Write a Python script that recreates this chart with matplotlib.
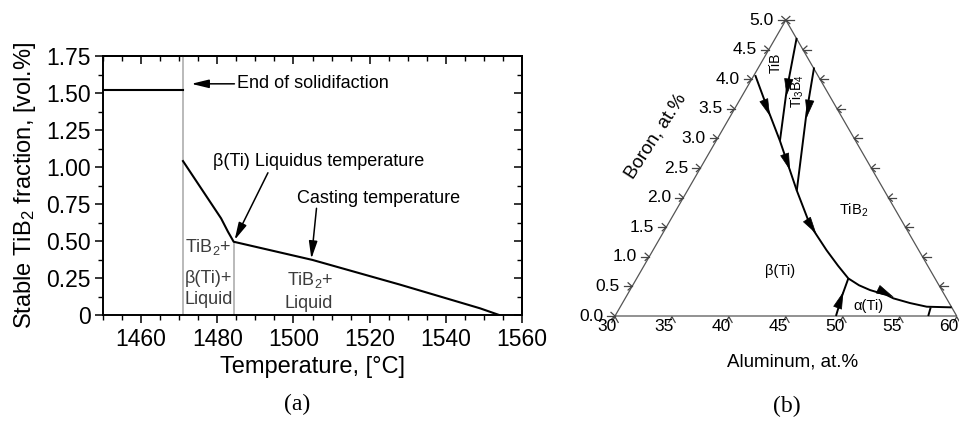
import numpy as np
import matplotlib
matplotlib.use('Agg')
import matplotlib.pyplot as plt
from matplotlib.ticker import MultipleLocator, FixedLocator, FixedFormatter

plt.rcParams['font.family'] = ['Liberation Sans', 'DejaVu Sans']
plt.rcParams['mathtext.fontset'] = 'custom'
plt.rcParams['mathtext.rm'] = 'Liberation Sans'
plt.rcParams['mathtext.it'] = 'Liberation Sans'
plt.rcParams['mathtext.default'] = 'regular'

# ---- panel (a) data: stable TiB2 fraction vs temperature ----
solid_T = [1450, 1471]
solid_f = [1.52, 1.52]
liq_T = [1471, 1481, 1482.8, 1484.3, 1505, 1528, 1549, 1554]
liq_f = [1.04, 0.653, 0.563, 0.495, 0.372, 0.205, 0.045, 0.0]
T_solidus = 1471          # end of solidification
T_liquidus = 1484.3       # beta(Ti) liquidus
f_liquidus = 0.495
x_ticks = [1460, 1480, 1500, 1520, 1540, 1560]
y_ticks = [0, 0.25, 0.5, 0.75, 1.0, 1.25, 1.5, 1.75]
y_tick_labels = ['0', '0.25', '0.50', '0.75', '1.00', '1.25', '1.50', '1.75']

# ---- panel (b) data: liquidus projection (Al at.%, B at.%) ----
c1_al = [30.1, 33.05, 35.6, 39.6, 42.1, 43.07, 45.25, 47.03, 48.58, 49.87, 51.08,
         52.79, 53.55, 55.24, 56.9, 59.12]
c1_b = [4.07, 3.47, 2.96, 2.12, 1.62, 1.45, 1.11, 0.85, 0.635, 0.519, 0.438,
        0.354, 0.298, 0.219, 0.157, 0.146]
c2_al = [31.85, 33.66, 35.6]
c2_b = [4.70, 3.80, 2.96]
c3_al = [34.88, 36.5, 39.6]
c3_b = [4.20, 3.44, 2.12]
c4_al = [49.4, 48.93, 48.58]
c4_b = [0.0, 0.325, 0.635]
c5_al = [57.5, 57.28]
c5_b = [0.0, 0.146]
# arrow tips (Al, B) and the curve they sit on
arrow_curve = [0, 0, 0, 0, 1, 2, 3]
arrow_al = [33.46, 37.99, 43.5, 53.46, 33.9, 36.77, 48.82]
arrow_b = [3.38, 2.46, 1.39, 0.325, 3.72, 3.36, 0.41]
al_ticks = [30, 35, 40, 45, 50, 55, 60]
b_ticks = [0.0, 0.5, 1.0, 1.5, 2.0, 2.5, 3.0, 3.5, 4.0, 4.5, 5.0]
right_ticks_b = [0.5, 1.0, 1.5, 2.0, 2.5, 3.0, 3.5, 4.0, 4.5]
region_names = ['TiB', 'Ti$_3$B$_4$', 'TiB$_2$', 'β(Ti)', 'α(Ti)']
region_al = [31.3, 34.6, 45.6, 42.2, 51.7]
region_b = [4.27, 3.80, 1.78, 0.76, 0.17]
region_rot = [90, 90, 0, 0, 0]

fig = plt.figure(figsize=(9.59, 4.23), dpi=100)

# ================= panel (a) =================
ax = fig.add_axes([103 / 959, 1 - 315 / 423, 419 / 959, 259 / 423])
ax.plot(solid_T, solid_f, color='black', lw=1.5)
ax.plot(liq_T, liq_f, color='black', lw=1.5)
ax.plot([T_solidus, T_solidus], [0, 1.75], color='#b4b4b4', lw=1.3, zorder=1)
ax.plot([T_liquidus, T_liquidus], [0, f_liquidus], color='#b4b4b4', lw=1.3, zorder=1)

ax.set_xlim(1450, 1560)
ax.set_ylim(0, 1.75)
ax.xaxis.set_major_locator(FixedLocator(x_ticks))
ax.xaxis.set_minor_locator(MultipleLocator(5))
ax.yaxis.set_major_locator(FixedLocator(y_ticks))
ax.yaxis.set_major_formatter(FixedFormatter(y_tick_labels))
ax.yaxis.set_minor_locator(MultipleLocator(0.125))
ax.tick_params(which='major', direction='out', length=6, width=1.1, labelsize=16.5, pad=3)
ax.tick_params(which='minor', direction='out', length=3.5, width=1.0)
for s in ax.spines.values():
    s.set_linewidth(1.4)

top = ax.secondary_xaxis('top')
top.xaxis.set_major_locator(FixedLocator(x_ticks))
top.xaxis.set_minor_locator(MultipleLocator(5))
top.tick_params(which='major', direction='in', length=6, width=1.1, labeltop=False)
top.tick_params(which='minor', direction='in', length=3.5, width=1.0)
right = ax.secondary_yaxis('right')
right.yaxis.set_major_locator(FixedLocator(y_ticks))
right.yaxis.set_minor_locator(MultipleLocator(0.125))
right.tick_params(which='major', direction='in', length=6, width=1.1, labelright=False)
right.tick_params(which='minor', direction='in', length=3.5, width=1.0)
top.spines['top'].set_linewidth(1.4)
right.spines['right'].set_linewidth(1.4)

ax.set_xlabel('Temperature, [°C]', fontsize=17, labelpad=4)
ax.set_ylabel('Stable TiB$_2$ fraction, [vol.%]', fontsize=17, labelpad=6)

arr = dict(arrowstyle='-|>,head_length=0.7,head_width=0.17', mutation_scale=15,
           color='black', lw=1.1, shrinkA=0, shrinkB=0)
ax.annotate('', xy=(1473.2, 1.562), xytext=(1484.5, 1.562), arrowprops=arr)
ax.text(1485.1, 1.562, 'End of solidifaction', fontsize=13, ha='left', va='center')
ax.annotate('', xy=(1484.55, 0.507), xytext=(1493.3, 0.961), arrowprops=arr)
ax.text(1478.8, 1.034, 'β(Ti) Liquidus temperature', fontsize=13, ha='left', va='center')
ax.annotate('', xy=(1504.7, 0.38), xytext=(1506.05, 0.721), arrowprops=arr)
ax.text(1500.9, 0.784, 'Casting temperature', fontsize=13, ha='left', va='center')

gray_txt = '#3c3c3c'
ax.text(1471.4, 0.428, 'TiB$_2$+', fontsize=13, color=gray_txt, ha='left', va='baseline')
ax.text(1471.4, 0.214, 'β(Ti)+', fontsize=13, color=gray_txt, ha='left', va='baseline')
ax.text(1471.4, 0.075, 'Liquid', fontsize=13, color=gray_txt, ha='left', va='baseline')
ax.text(1498.2, 0.203, 'TiB$_2$+', fontsize=13, color=gray_txt, ha='left', va='baseline')
ax.text(1497.7, 0.05, 'Liquid', fontsize=13, color=gray_txt, ha='left', va='baseline')

fig.text(297.5 / 959, 1 - 404 / 423, '(a)', family='Liberation Serif', fontsize=17,
         ha='center', va='center')

# ================= panel (b) =================
S = 341.7  # px per triangle side
bx = fig.add_axes([560 / 959, 0, 399 / 959, 1])
bx.set_xlim((560 - 615) / S, (959 - 615) / S)
bx.set_ylim((316 - 423) / S, 316 / S)
bx.axis('off')


def tern(al, b):
    a_ = (np.asarray(al, float) - 30) / 30
    b_ = np.asarray(b, float) / 5
    return a_ + b_ / 2, b_ * np.sqrt(3) / 2


def px(xp, yp):
    return (xp - 615) / S, (316 - yp) / S


vx, vy = tern([30, 60, 30, 30], [0, 0, 5, 0])
bx.plot(vx, vy, color='#555555', lw=0.9)

L = 8 / S
tick_kw = dict(color='#444444', lw=0.9)
for b in b_ticks:
    x, y = tern(30, b)
    bx.plot([x - L, x], [y, y], **tick_kw)
    bx.plot([x - 0.5 * L, x, x - 0.5 * L], [y + 0.45 * L, y, y - 0.45 * L], **tick_kw)
    bx.text(x - 12 / S, y, '%.1f' % b, fontsize=12.5, ha='right', va='center')
for b in right_ticks_b + [5.0]:
    x, y = tern(30 + 30 * (1 - b / 5), b)
    bx.plot([x, x + L], [y, y], **tick_kw)
    bx.plot([x + 0.5 * L, x, x + 0.5 * L], [y + 0.45 * L, y, y - 0.45 * L], **tick_kw)
for a in al_ticks:
    x, y = tern(a, 0)
    bx.plot([x - 0.4 * L, x, x + 0.4 * L], [y - 0.8 * L, y - 0.1 * L, y - 0.8 * L], **tick_kw)
    bx.text(x - 8 / S, y - 2.5 / S, '%d' % a, fontsize=12.5, ha='center', va='top')

curves = [(c1_al, c1_b), (c2_al, c2_b), (c3_al, c3_b), (c4_al, c4_b), (c5_al, c5_b)]
for cal, cb in curves:
    x, y = tern(cal, cb)
    bx.plot(x, y, color='black', lw=1.4, solid_capstyle='butt', solid_joinstyle='round')

barr = dict(arrowstyle='-|>,head_length=0.75,head_width=0.2', mutation_scale=15,
            color='black', lw=0.5, shrinkA=0, shrinkB=0)
for ci, a, b in zip(arrow_curve, arrow_al, arrow_b):
    cx, cy = tern(*curves[ci])
    x0, y0 = tern(a, b)
    mx, my = (cx[:-1] + cx[1:]) / 2, (cy[:-1] + cy[1:]) / 2
    i = int(np.argmin((mx - x0) ** 2 + (my - y0) ** 2))
    dx, dy = cx[i + 1] - cx[i], cy[i + 1] - cy[i]
    n = np.hypot(dx, dy)
    bx.annotate('', xy=(float(x0), float(y0)),
                xytext=(float(x0 - dx / n * 1e-3), float(y0 - dy / n * 1e-3)),
                arrowprops=barr)

for name, a, b, r in zip(region_names, region_al, region_b, region_rot):
    x, y = tern(a, b)
    bx.text(x, y, name, fontsize=10.5 if r == 0 else 10, rotation=r, ha='center', va='center')

bx.text(*px(655.8, 135.8), 'Boron, at.%', fontsize=13.5, rotation=57, ha='center', va='center')
bx.text(*px(793, 361.7), 'Aluminum, at.%', fontsize=13.5, ha='center', va='center')
fig.text(786.7 / 959, 1 - 406.7 / 423, '(b)', family='Liberation Serif', fontsize=17,
         ha='center', va='center')

fig.savefig('out.png', dpi=100)
